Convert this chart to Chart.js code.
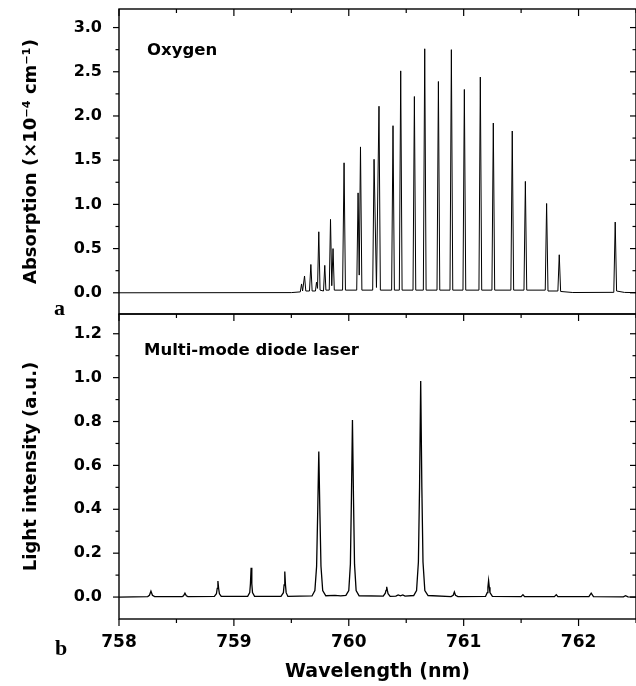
<!DOCTYPE html>
<html>
<head>
<meta charset="utf-8">
<script src="https://cdn.jsdelivr.net/npm/chart.js@4.4.0/dist/chart.umd.min.js"></script>
<style>
  html, body { margin: 0; padding: 0; background: #fff; }
</style>
</head>
<body>
<canvas id="chart" width="636" height="686"></canvas>
<script>
// panel a: oxygen absorption lines
const o2Wavelength = [
  758.00, 759.50, 759.578, 759.589, 759.598, 759.615, 759.626, 759.658, 759.670, 759.681,
  759.710, 759.719, 759.728, 759.739, 759.750, 759.780, 759.791, 759.801, 759.830, 759.841,
  759.852, 759.863, 759.874, 759.946, 759.959, 759.971, 760.069, 760.081, 760.091, 760.102,
  760.114, 760.208, 760.220, 760.241, 760.263, 760.275, 760.373, 760.385, 760.397, 760.440,
  760.452, 760.464, 760.559, 760.571, 760.583, 760.649, 760.661, 760.673, 760.768, 760.780,
  760.792, 760.881, 760.893, 760.905, 760.994, 761.006, 761.018, 761.133, 761.145, 761.157,
  761.246, 761.258, 761.270, 761.411, 761.423, 761.435, 761.525, 761.537, 761.549, 761.710,
  761.722, 761.734, 761.820, 761.832, 761.844, 761.950, 762.300, 762.307, 762.319, 762.331,
  762.400, 762.500
];
const o2Absorption = [
  0, 0.002, 0.01, 0.10, 0.02, 0.19, 0.02, 0.02, 0.32, 0.02,
  0.02, 0.12, 0.05, 0.69, 0.03, 0.02, 0.31, 0.03, 0.03, 0.83,
  0.08, 0.50, 0.03, 0.03, 1.47, 0.03, 0.03, 1.13, 0.20, 1.65,
  0.03, 0.03, 1.51, 0.06, 2.11, 0.03, 0.03, 1.89, 0.03, 0.03,
  2.51, 0.03, 0.03, 2.22, 0.03, 0.03, 2.76, 0.03, 0.03, 2.39,
  0.03, 0.03, 2.75, 0.03, 0.03, 2.30, 0.03, 0.03, 2.44, 0.03,
  0.03, 1.92, 0.03, 0.03, 1.83, 0.03, 0.03, 1.26, 0.03, 0.03,
  1.01, 0.02, 0.02, 0.43, 0.015, 0.003, 0.005, 0.02, 0.80, 0.02,
  0.004, 0.002
];

// panel b: multi-mode diode laser spectrum
const laserWavelength = [
  758.00, 758.25, 758.265, 758.278, 758.291, 758.31, 758.55, 758.562, 758.574, 758.586,
  758.60, 758.83, 758.848, 758.855, 758.861, 758.867, 758.874, 758.89, 759.12, 759.138,
  759.144, 759.150, 759.156, 759.162, 759.18, 759.41, 759.431, 759.437, 759.443, 759.449,
  759.455, 759.47, 759.68, 759.705, 759.720, 759.730, 759.739, 759.748, 759.758, 759.773,
  759.80, 759.88, 759.93, 759.975, 760.000, 760.014, 760.023, 760.032, 760.041, 760.050,
  760.064, 760.09, 760.30, 760.318, 760.324, 760.330, 760.336, 760.342, 760.36, 760.41,
  760.43, 760.45, 760.47, 760.49, 760.565, 760.590, 760.606, 760.616, 760.626, 760.636,
  760.646, 760.662, 760.69, 760.89, 760.909, 760.919, 760.929, 760.95, 761.19, 761.205,
  761.211, 761.217, 761.223, 761.229, 761.25, 761.50, 761.516, 761.53, 761.79, 761.806,
  761.82, 762.09, 762.11, 762.13, 762.39, 762.409, 762.43, 762.50
];
const laserIntensity = [
  0, 0.002, 0.008, 0.027, 0.008, 0.002, 0.002, 0.006, 0.018, 0.006,
  0.002, 0.003, 0.015, 0.04, 0.073, 0.04, 0.015, 0.003, 0.003, 0.02,
  0.06, 0.134, 0.06, 0.02, 0.003, 0.003, 0.02, 0.055, 0.116, 0.055,
  0.02, 0.003, 0.005, 0.03, 0.14, 0.40, 0.663, 0.40, 0.14, 0.03,
  0.006, 0.008, 0.005, 0.008, 0.03, 0.15, 0.45, 0.807, 0.45, 0.15,
  0.03, 0.006, 0.004, 0.018, 0.03, 0.047, 0.03, 0.015, 0.003, 0.004,
  0.01, 0.006, 0.01, 0.004, 0.007, 0.03, 0.16, 0.50, 0.985, 0.50,
  0.16, 0.03, 0.007, 0.002, 0.008, 0.023, 0.008, 0.002, 0.003, 0.02,
  0.045, 0.075, 0.045, 0.02, 0.003, 0.002, 0.011, 0.002, 0.002, 0.011,
  0.002, 0.002, 0.018, 0.002, 0.001, 0.006, 0.001, 0
];

const wavelengthTicks = [758, 759, 760, 761, 762];
const wavelengthMinor = [758.5, 759.5, 760.5, 761.5, 762.5];
const absorptionTicks = [0, 0.5, 1, 1.5, 2, 2.5, 3];
const absorptionMinor = [0.25, 0.75, 1.25, 1.75, 2.25, 2.75];
const intensityTicks = [0, 0.2, 0.4, 0.6, 0.8, 1, 1.2];
const intensityMinor = [0.1, 0.3, 0.5, 0.7, 0.9, 1.1];

const sans = 'DejaVu Sans';

function toPoints(xs, ys) {
  return xs.map((x, i) => ({ x, y: ys[i] }));
}

// frame, inward/outward tick marks and panel labels
const framePlugin = {
  id: 'frame',
  afterDraw(chart) {
    const { ctx, chartArea: area, scales } = chart;
    const x = scales.x, yTop = scales.yTop, yBot = scales.yBot;
    const line = (x1, y1, x2, y2) => {
      ctx.beginPath();
      ctx.moveTo(x1, y1);
      ctx.lineTo(x2, y2);
      ctx.stroke();
    };
    ctx.save();
    ctx.strokeStyle = '#000';
    ctx.lineWidth = 1.4;
    for (const s of [yTop, yBot]) {
      ctx.strokeRect(area.left, s.top, area.right - area.left, s.bottom - s.top);
    }
    ctx.lineWidth = 1.2;
    for (const v of wavelengthTicks.concat(wavelengthMinor)) {
      const px = x.getPixelForValue(v);
      const len = wavelengthTicks.includes(v) ? 7 : 4;
      line(px, yBot.bottom, px, yBot.bottom + len);
      line(px, yBot.top, px, yBot.top + len);
      line(px, yTop.top, px, yTop.top + len);
    }
    const yPanels = [[yTop, absorptionTicks, absorptionMinor], [yBot, intensityTicks, intensityMinor]];
    for (const [s, major, minor] of yPanels) {
      for (const v of major.concat(minor)) {
        const py = s.getPixelForValue(v);
        const len = major.includes(v) ? 6 : 3.5;
        line(area.left - len, py, area.left, py);
        line(area.right - len, py, area.right, py);
      }
    }
    ctx.fillStyle = '#000';
    ctx.textBaseline = 'alphabetic';
    ctx.textAlign = 'left';
    ctx.font = 'bold 16.5px "' + sans + '"';
    ctx.fillText('Oxygen', area.left + 28, yTop.top + 46);
    ctx.fillText('Multi-mode diode laser', area.left + 25, yBot.top + 41);
    ctx.font = 'bold 22px "Liberation Serif"';
    ctx.fillText('a', 54, yTop.bottom + 1);
    ctx.fillText('b', 55, yBot.bottom + 36);
    ctx.restore();
  }
};

const tickFont = { family: sans, size: 16, weight: 'bold' };
const titleFont = { family: sans, size: 18, weight: 'bold' };

function yScale(min, max, ticks, title, weight) {
  return {
    type: 'linear',
    position: 'left',
    stack: 'panels',
    stackWeight: 1,
    weight: weight,
    min: min,
    max: max,
    grid: { display: false },
    border: { display: false },
    afterBuildTicks: axis => { axis.ticks = ticks.map(v => ({ value: v })); },
    afterFit: axis => {
      axis.width = 119;
      axis.paddingTop = 0;
      axis.paddingBottom = 0;
    },
    ticks: { font: tickFont, color: '#000', padding: 9, callback: v => v.toFixed(1) },
    title: { display: true, text: title, font: titleFont, color: '#000', padding: { top: 21, bottom: 0 } }
  };
}

new Chart(document.getElementById('chart'), {
  type: 'line',
  data: {
    datasets: [
      {
        data: toPoints(o2Wavelength, o2Absorption),
        yAxisID: 'yTop',
        borderColor: '#000',
        borderWidth: 1,
        pointRadius: 0,
        tension: 0
      },
      {
        data: toPoints(laserWavelength, laserIntensity),
        yAxisID: 'yBot',
        borderColor: '#000',
        borderWidth: 1.3,
        pointRadius: 0,
        tension: 0
      }
    ]
  },
  options: {
    responsive: false,
    animation: false,
    devicePixelRatio: 1,
    layout: { padding: { top: 9, left: 0, right: -2, bottom: 0 } },
    plugins: { legend: { display: false }, tooltip: { enabled: false } },
    scales: {
      x: {
        type: 'linear',
        min: 758,
        max: 762.5,
        grid: { display: false },
        border: { display: false },
        afterBuildTicks: axis => { axis.ticks = wavelengthTicks.map(v => ({ value: v })); },
        afterFit: axis => { axis.height = 67; },
        ticks: { font: { family: sans, size: 17, weight: 'bold' }, color: '#000', padding: 5, maxRotation: 0 },
        title: { display: true, text: 'Wavelength (nm)', font: { family: sans, size: 19, weight: 'bold' }, color: '#000', padding: { top: 0, bottom: 3 } }
      },
      yBot: yScale(-0.1, 1.29, intensityTicks, 'Light intensity (a.u.)', 1),
      yTop: yScale(-0.24, 3.21, absorptionTicks, 'Absorption (×10⁻⁴ cm⁻¹)', 2)
    }
  },
  plugins: [framePlugin]
});
</script>
</body>
</html>
